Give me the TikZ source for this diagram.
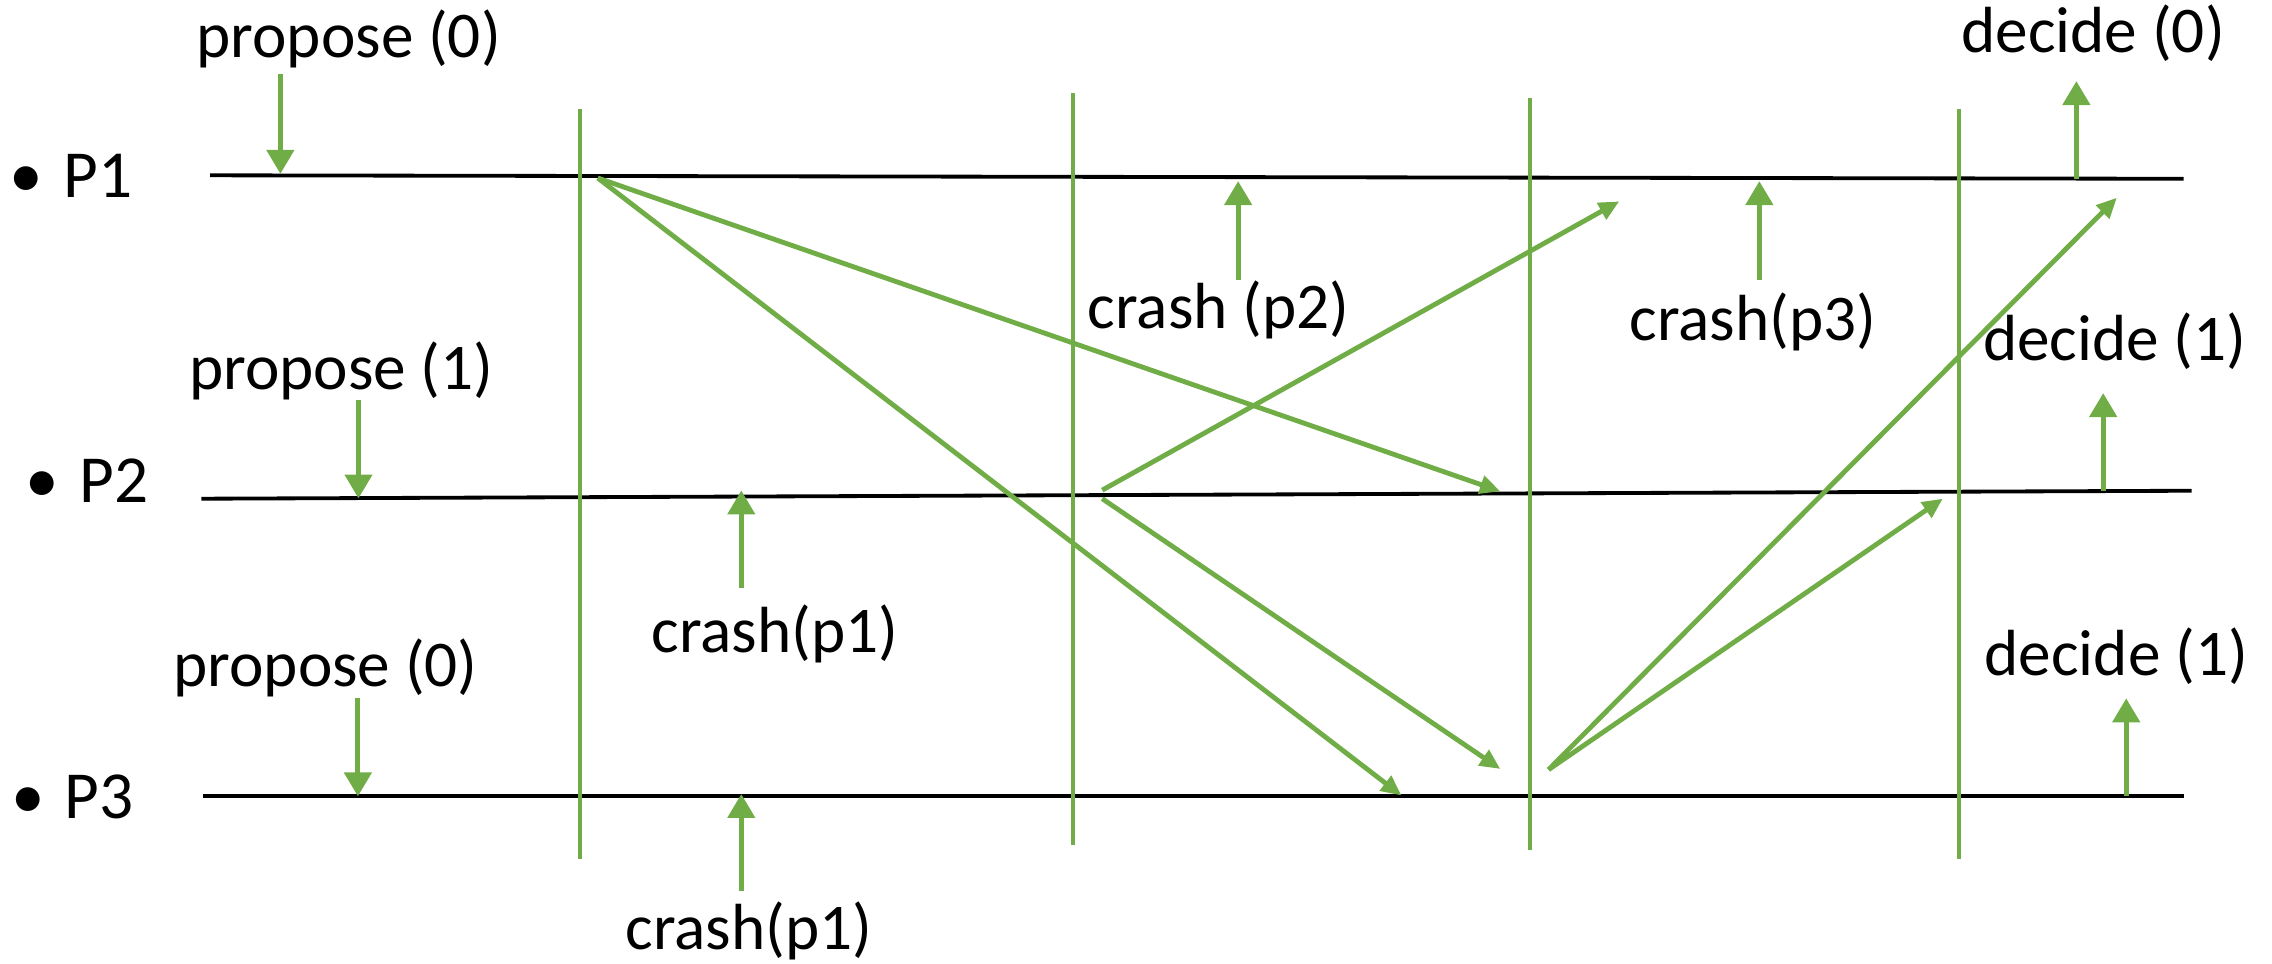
\documentclass[tikz,border=0pt]{standalone}
\usepackage{fontspec}
\setmainfont{Carlito}
\usepackage{tikz}
\usetikzlibrary{arrows.meta}
\definecolor{evgreen}{HTML}{70AD47}

\begin{document}
\begin{tikzpicture}[x=0.01cm, y=-0.01cm,
    lbl/.style={anchor=base west, inner sep=0pt, font=\fontsize{12.8}{15}\selectfont},
    proc/.style={anchor=base west, inner sep=0pt, font=\fontsize{13.2}{15}\selectfont},
    timeline/.style={black, line width=0.75pt},
    roundline/.style={evgreen, line width=0.8pt},
    event/.style={evgreen, line width=1pt, -{Triangle[length=0.165cm, width=0.185cm]}},
    msg/.style={evgreen, line width=0.95pt, -{Triangle[length=0.14cm, width=0.125cm]}}]
                \useasboundingbox (0,0) rectangle (1568,665);

                % Nodes
                \node[proc] (P1) at (6,136) {•\hspace{0.3em}P1};
                \node[proc] (P2) at (17,347) {•\hspace{0.3em}P2};
                \node[proc] (P3) at (7,565) {•\hspace{0.3em}P3};

                \node[lbl] (prop1) at (135,40) {propose (0)};
                \node[lbl] (prop2) at (130,269) {propose (1)};
                \node[lbl] (prop3) at (119,474) {propose (0)};
                \node[lbl] (crash1a) at (449,450) {crash(p1)};
                \node[lbl] (crash1b) at (431,655) {crash(p1)};
                \node[lbl] (crash2) at (750,227) {crash (p2)};
                \node[lbl] (crash3) at (1124,235) {crash(p3)};
                \node[lbl] (dec1) at (1353,36) {decide (0)};
                \node[lbl] (dec2) at (1368,249) {decide (1)};
                \node[lbl] (dec3) at (1369,466) {decide (1)};

                % process lines
                \coordinate (l1a) at (145,121);
                \coordinate (l1b) at (1507,123.4);
                \coordinate (l2a) at (139,344.2);
                \coordinate (l2b) at (1512.6,338.7);
                \coordinate (l3a) at (140,549.4);
                \coordinate (l3b) at (1507,549.4);

                % round borders
                \coordinate (r1a) at (400,75.5);
                \coordinate (r1b) at (400,592.6);
                \coordinate (r2a) at (740.5,64.4);
                \coordinate (r2b) at (740.5,583);
                \coordinate (r3a) at (1056,67.8);
                \coordinate (r3b) at (1056,586.3);
                \coordinate (r4a) at (1352,75.5);
                \coordinate (r4b) at (1352,592.6);

                % event arrows
                \coordinate (e1a) at (193.5,51);
                \coordinate (e1b) at (193.5,120);
                \coordinate (e2a) at (247.4,276.4);
                \coordinate (e2b) at (247.4,344);
                \coordinate (e3a) at (247,482);
                \coordinate (e3b) at (247,549.6);
                \coordinate (c1a) at (511.6,406);
                \coordinate (c1b) at (511.6,338.5);
                \coordinate (c2a) at (511.6,614.7);
                \coordinate (c2b) at (511.6,548);
                \coordinate (c3a) at (854.5,193);
                \coordinate (c3b) at (854.5,125);
                \coordinate (c4a) at (1214.2,193);
                \coordinate (c4b) at (1214.2,125);
                \coordinate (d1a) at (1433,123.4);
                \coordinate (d1b) at (1433,56);
                \coordinate (d2a) at (1451.5,338.7);
                \coordinate (d2b) at (1451.5,271.3);
                \coordinate (d3a) at (1467.4,549.4);
                \coordinate (d3b) at (1467.4,482);

                % message ends
                \coordinate (s1) at (412.6,122.9);
                \coordinate (t1) at (1035.4,339.1);
                \coordinate (t2) at (967.2,549);
                \coordinate (s2) at (760.7,338.3);
                \coordinate (s3) at (760.7,344.2);
                \coordinate (t3) at (1117.5,139);
                \coordinate (t4) at (1035.4,530.7);
                \coordinate (s4) at (1068.7,531.2);
                \coordinate (t5) at (1460.9,136.5);
                \coordinate (t6) at (1340.8,344.2);

                % Edges
                \draw[timeline] (l1a)--(l1b);
                \draw[timeline] (l2a)--(l2b);
                \draw[timeline] (l3a)--(l3b);
                \draw[roundline] (r1a)--(r1b);
                \draw[roundline] (r2a)--(r2b);
                \draw[roundline] (r3a)--(r3b);
                \draw[roundline] (r4a)--(r4b);
                \draw[event] (e1a)--(e1b);
                \draw[event] (e2a)--(e2b);
                \draw[event] (e3a)--(e3b);
                \draw[event] (c1a)--(c1b);
                \draw[event] (c2a)--(c2b);
                \draw[event] (c3a)--(c3b);
                \draw[event] (c4a)--(c4b);
                \draw[event] (d1a)--(d1b);
                \draw[event] (d2a)--(d2b);
                \draw[event] (d3a)--(d3b);
                \draw[msg] (s1)--(t1);
                \draw[msg] (s1)--(t2);
                \draw[msg] (s2)--(t3);
                \draw[msg] (s3)--(t4);
                \draw[msg] (s4)--(t5);
                \draw[msg] (s4)--(t6);
            \end{tikzpicture}
\end{document}
